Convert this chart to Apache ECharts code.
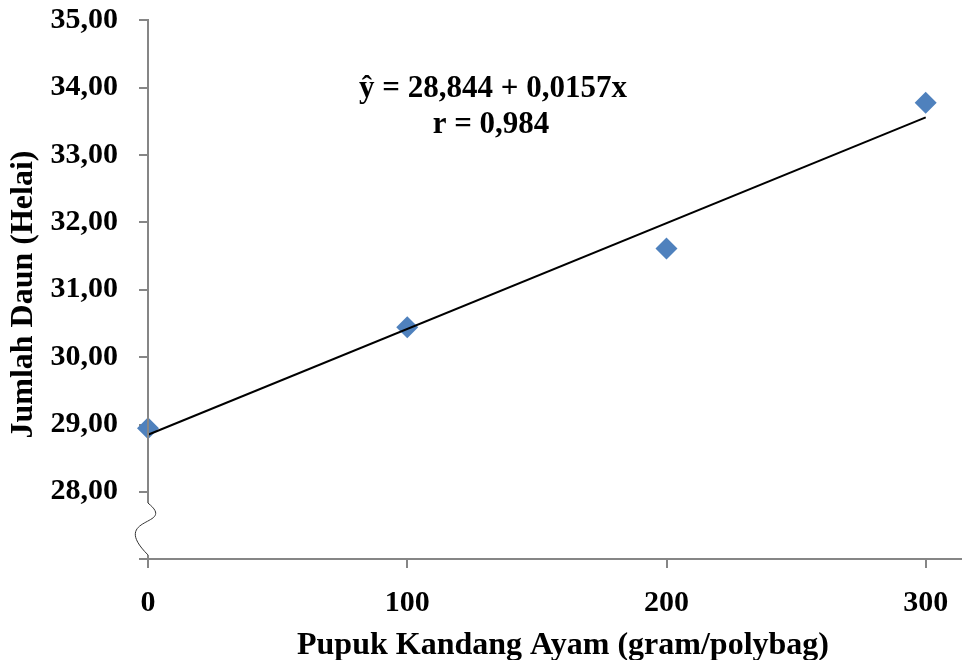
<!DOCTYPE html>
<html><head><meta charset="utf-8">
<script src="https://cdn.jsdelivr.net/npm/echarts@6/dist/echarts.min.js"></script>
<style>html,body{margin:0;padding:0;background:#fff}#c{width:962px;height:660px}</style>
</head><body><div id="c"></div>
<script>
const doses = [0, 100, 200, 300];
const leaves = [28.94, 30.44, 31.61, 33.77];
const trendX = [0, 300];
const trendY = [28.844, 33.554];
const xTicks = [0, 100, 200, 300];
const eqLine1 = 'ŷ = 28,844 + 0,0157x';
const eqLine2 = 'r = 0,984';
const xTitle = 'Pupuk Kandang Ayam (gram/polybag)';
const yTitle = 'Jumlah Daun (Helai)';

const FONT = '"Liberation Serif", "Times New Roman", serif';
const chart = echarts.init(document.getElementById('c'), null, {renderer: 'canvas'});
const axisGray = '#868686';
const txt = {fontFamily: FONT, fontWeight: 'bold', fontSize: 30, color: '#000'};
const ttl = {fontFamily: FONT, fontWeight: 'bold', fontSize: 32, color: '#000'};

chart.setOption({
  animation: false,
  grid: {left: 148, right: 0, top: 20, bottom: 101, containLabel: false, outerBoundsMode: 'none'},
  xAxis: {
    type: 'value', min: 0, max: 314, interval: 100,
    splitLine: {show: false},
    axisLine: {show: true, lineStyle: {color: axisGray, width: 2}},
    axisTick: {show: true, customValues: xTicks, length: 9, lineStyle: {color: axisGray, width: 2}},
    axisLabel: Object.assign({customValues: xTicks, margin: 29, formatter: v => String(v)}, txt),
    name: xTitle, nameLocation: 'middle', nameGap: 71,
    nameTextStyle: Object.assign({padding: [0, 0, 0, 16]}, ttl)
  },
  yAxis: {
    type: 'value', min: 27, max: 35, interval: 1,
    splitLine: {show: false},
    axisLine: {show: false},
    axisTick: {show: true, length: 9, lineStyle: {color: axisGray, width: 2}},
    axisLabel: Object.assign({margin: 30, formatter: v => (v <= 27 ? '' : v.toFixed(2).replace('.', ','))}, txt),
    name: yTitle, nameLocation: 'middle', nameGap: 103, nameRotate: 90,
    nameTextStyle: Object.assign({padding: [0, 10, 0, 0]}, ttl)
  },
  series: [
    {
      type: 'line', data: trendX.map((x, i) => [x, trendY[i]]),
      showSymbol: false, symbol: 'none', lineStyle: {color: '#000', width: 2}, z: 3
    },
    {
      type: 'scatter', data: doses.map((x, i) => [x, leaves[i]]),
      symbol: 'diamond', symbolSize: [22, 22], itemStyle: {color: '#4F81BD', opacity: 1}, z: 2
    }
  ]
});

function drawExtras() {
  const top = chart.convertToPixel({gridIndex: 0}, [0, 35]);
  const brk = chart.convertToPixel({gridIndex: 0}, [0, 27.83]);
  const bot = chart.convertToPixel({gridIndex: 0}, [0, 27.06]);
  const x0 = top[0];
  const yA = brk[1], yB = bot[1];
  const mid = (yA + yB) / 2;
  chart.setOption({
    graphic: [
      {type: 'line', shape: {x1: x0, y1: top[1] - 1, x2: x0, y2: yA}, style: {stroke: axisGray, lineWidth: 2}, z: 10},
      {type: 'line', shape: {x1: x0, y1: yB, x2: x0, y2: bot[1] + 4}, style: {stroke: axisGray, lineWidth: 2}, z: 10},
      {type: 'bezierCurve', shape: {x1: x0, y1: yA, cpx1: x0 + 30, cpy1: mid - 2, cpx2: x0 - 40, cpy2: mid - 14, x2: x0, y2: yB},
        style: {stroke: '#333', lineWidth: 1, fill: null}, z: 10},
      {type: 'text', x: 493, y: 89, style: {text: eqLine1, font: 'bold 31px ' + FONT, fill: '#000', textAlign: 'center', textVerticalAlign: 'middle'}, z: 10},
      {type: 'text', x: 491, y: 125, style: {text: eqLine2, font: 'bold 31px ' + FONT, fill: '#000', textAlign: 'center', textVerticalAlign: 'middle'}, z: 10}
    ]
  });
}
drawExtras();
</script>
</body></html>
